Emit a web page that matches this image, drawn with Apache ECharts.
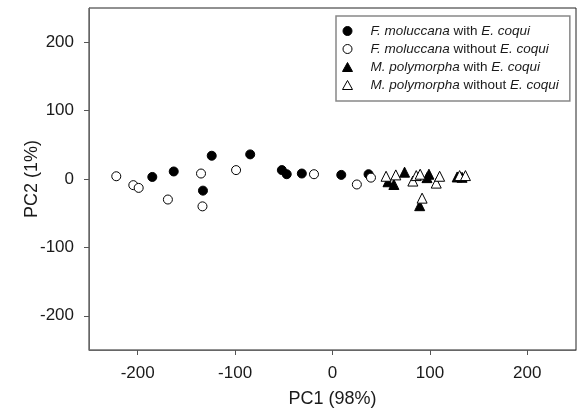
<!DOCTYPE html>
<html>
<head>
<meta charset="utf-8">
<script src="https://cdn.jsdelivr.net/npm/echarts@6/dist/echarts.min.js"></script>
<style>
html,body{margin:0;padding:0;background:#fff;}
#chart{width:577px;height:408px;}
</style>
</head>
<body>
<div id="chart"></div>
<script>
var seriesNames = [
  'F. moluccana with E. coqui',
  'F. moluccana without E. coqui',
  'M. polymorpha with E. coqui',
  'M. polymorpha without E. coqui'
];
var fmWith = [[-185,3],[-163,11],[-133,-17],[-124,34],[-84.5,36],[-52,13],[-47,7],[-31.5,8],[9,6],[37,7]];
var fmWithout = [[-222,4],[-204.5,-9],[-199,-13],[-169,-30],[-135,8],[-133.5,-40],[-99,13],[-19,7],[25,-8],[39.5,2]];
var mpWith = [[57,-4],[63,-8],[74,10],[97,2],[99,7],[89.5,-39],[128,3],[133,2.5]];
var mpWithout = [[55,4],[65,6],[82.5,-3],[86,5],[90,7],[106.5,-6],[110,4],[92,-28],[130.5,5],[136.5,5]];
var xTicks = [-200,-100,0,100,200];
var yTicks = [-200,-100,0,100,200];

var FONT = '"Liberation Sans", Arial, Helvetica, sans-serif';
var chart = echarts.init(document.getElementById('chart'), null, {renderer:'canvas'});

function sc(name, data, symbol, filled, size) {
  return {
    name: name, type: 'scatter', data: data, symbol: symbol, symbolSize: size,
    itemStyle: filled ? {color:'#000', borderColor:'#000', borderWidth:1, opacity:1}
                      : {color:'#fff', borderColor:'#000', borderWidth:1, opacity:1},
    emphasis: {disabled:true}
  };
}

var LFS = 13.5;
var legendRich = {
  i: {fontStyle:'italic', fontFamily:FONT, fontSize:LFS, color:'#1a1a1a', lineHeight:16},
  n: {fontFamily:FONT, fontSize:LFS, color:'#1a1a1a', lineHeight:16}
};
function legendFmt(name) {
  var m = name.match(/^(\S+ \S+) (with|without) (E\. coqui)$/);
  return '{i|' + m[1] + '}{n| ' + m[2] + ' }{i|' + m[3] + '}';
}

chart.setOption({
  animation: false,
  backgroundColor: '#fff',
  grid: {left:89, right:1, top:8, bottom:58, show:true, borderColor:'#222', borderWidth:1,
         containLabel:false, outerBoundsMode:'none'},
  xAxis: {
    type:'value', min:-250, max:250, interval:50,
    name:'PC1 (98%)', nameLocation:'middle', nameGap:40, nameMoveOverlap:false,
    nameTextStyle:{fontFamily:FONT, fontSize:18, color:'#1a1a1a'},
    axisLine:{show:true, onZero:false, lineStyle:{color:'#666', width:1}},
    axisTick:{show:true, length:5, lineStyle:{color:'#555'}, customValues: xTicks},
    axisLabel:{fontFamily:FONT, fontSize:17, color:'#1a1a1a', margin:15, customValues: xTicks},
    splitLine:{show:false}
  },
  yAxis: {
    type:'value', min:-250, max:250, interval:50,
    name:'PC2 (1%)', nameLocation:'middle', nameGap:48, nameMoveOverlap:false,
    nameTextStyle:{fontFamily:FONT, fontSize:18, color:'#1a1a1a'},
    axisLine:{show:true, onZero:false, lineStyle:{color:'#666', width:1}},
    axisTick:{show:true, length:5, lineStyle:{color:'#555'}, customValues: yTicks},
    axisLabel:{fontFamily:FONT, fontSize:17, color:'#1a1a1a', margin:15, customValues: yTicks},
    splitLine:{show:false}
  },
  legend: {
    orient:'vertical', left:336, top:16,
    padding:[8,11,9,6], itemGap:4, itemWidth:10, itemHeight:9,
    borderColor:'#888', borderWidth:1.5, backgroundColor:'#fff',
    selectedMode:false,
    itemStyle:{borderWidth:1, opacity:1},
    formatter: legendFmt,
    textStyle:{fontFamily:FONT, fontSize:LFS, color:'#1a1a1a', rich:legendRich, padding:[0,0,0,13]},
    data: seriesNames
  },
  series: [
    sc(seriesNames[0], fmWith, 'circle', true, 9),
    sc(seriesNames[1], fmWithout, 'circle', false, 9),
    sc(seriesNames[2], mpWith, 'triangle', true, 10),
    sc(seriesNames[3], mpWithout, 'triangle', false, 10)
  ]
});
</script>
</body>
</html>
